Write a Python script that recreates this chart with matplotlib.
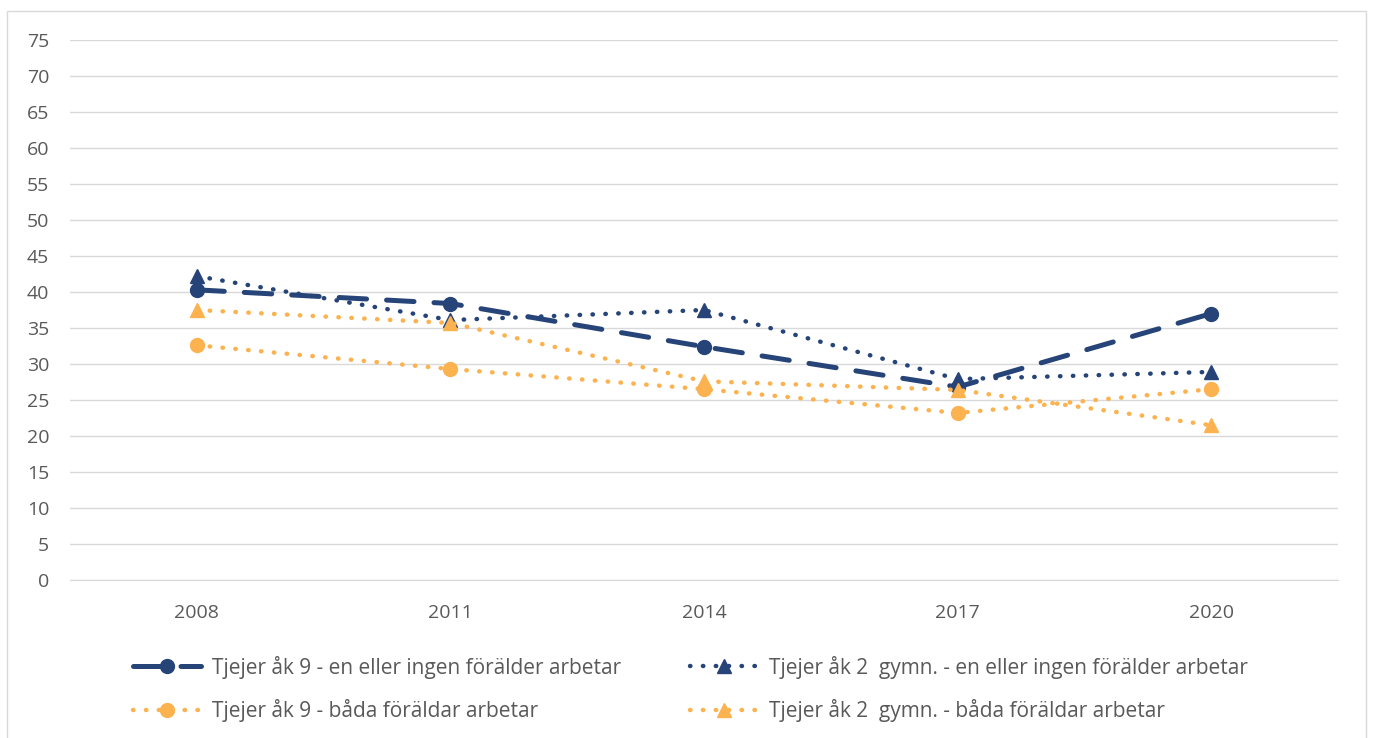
import matplotlib.pyplot as plt
from matplotlib.patches import Rectangle

years = ['2008', '2011', '2014', '2017', '2020']
ak9_en = [40.3, 38.4, 32.4, 26.8, 37.0]
gymn_en = [42.2, 36.1, 37.5, 27.9, 28.9]
ak9_bada = [32.6, 29.3, 26.5, 23.2, 26.5]
gymn_bada = [37.5, 35.7, 27.6, 26.4, 21.5]

navy = '#264478'
orange = '#FBB24F'
grey = '#595959'

plt.rcParams['font.family'] = ['Open Sans', 'DejaVu Sans']

fig = plt.figure(figsize=(13.73, 7.38), dpi=100)
ax = fig.add_axes([0.051, 0.2141, 0.9235, 0.7317])

x = range(len(years))
dots = (0, (0.1, 2.8))
l1, = ax.plot(x, ak9_en, color=navy, lw=3.6, linestyle=(0, (5.5, 4)),
              dash_capstyle='round', marker='o', markersize=10,
              label='Tjejer åk 9 - en eller ingen förälder arbetar')
l2, = ax.plot(x, gymn_en, color=navy, lw=3.2, linestyle=dots,
              dash_capstyle='round', marker='^', markersize=10,
              label='Tjejer åk 2  gymn. - en eller ingen förälder arbetar')
l3, = ax.plot(x, ak9_bada, color=orange, lw=3.2, linestyle=dots,
              dash_capstyle='round', marker='o', markersize=10,
              label='Tjejer åk 9 - båda föräldar arbetar')
l4, = ax.plot(x, gymn_bada, color=orange, lw=3.2, linestyle=dots,
              dash_capstyle='round', marker='^', markersize=10,
              label='Tjejer åk 2  gymn. - båda föräldar arbetar')

ax.set_xlim(-0.5, 4.5)
ax.set_ylim(0, 75)
ax.set_yticks(range(0, 80, 5))
ax.set_xticks(list(x))
ax.set_xticklabels(years)
ax.grid(axis='y', color='#D9D9D9', lw=1)
ax.set_axisbelow(True)
for s in ['top', 'right', 'left']:
    ax.spines[s].set_visible(False)
ax.spines['bottom'].set_color('#D9D9D9')
ax.tick_params(length=0, labelsize=14, colors=grey)
ax.tick_params(axis='y', pad=15)
ax.tick_params(axis='x', pad=17)

fig.legend(handles=[l1, l3, l2, l4], ncol=2, frameon=False,
           loc='upper left', bbox_to_anchor=(0.083, 0.137),
           fontsize=15, labelcolor=grey, handlelength=3.3,
           columnspacing=3.3, labelspacing=1.0, handletextpad=0.5)

fig.add_artist(Rectangle((0.005, -0.01), 0.99, 0.995, transform=fig.transFigure,
                         fill=False, edgecolor='#D9D9D9', lw=1))

plt.savefig('out.png')
